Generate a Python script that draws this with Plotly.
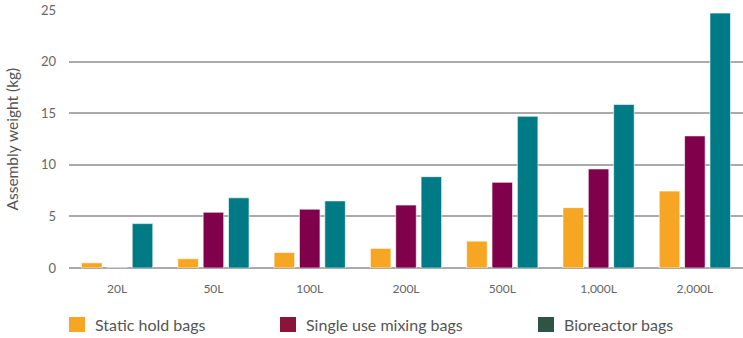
import plotly.graph_objects as go

categories = ["20L", "50L", "100L", "200L", "500L", "1,000L", "2,000L"]
static_hold = [0.5, 0.9, 1.5, 1.9, 2.6, 5.85, 7.45]
mixing = [0, 5.4, 5.7, 6.1, 8.3, 9.6, 12.8]
bioreactor = [4.3, 6.8, 6.5, 8.85, 14.7, 15.85, 24.7]
y_ticks = [0, 5, 10, 15, 20, 25]

series_names = ["Static hold bags", "Single use mixing bags", "Bioreactor bags"]
bar_colors = ["#F6A623", "#81004B", "#007A84"]
legend_colors = ["#F6A623", "#8B1538", "#2E5446"]

FONT = "Lato"
fig = go.Figure()
for name, vals, col in zip(series_names, [static_hold, mixing, bioreactor], bar_colors):
    fig.add_trace(go.Bar(x=categories, y=vals, name=name,
                         marker=dict(color=col, line=dict(color="rgba(255,255,255,0.6)", width=1)),
                         showlegend=False))

# manual legend (pixel layout converted to paper coordinates)
L, R, T, B = 69, 743, 10, 268
def px(x):
    return (x - L) / (R - L)
def py(y):
    return (B - y) / (B - T)

legend_x = [69, 280, 538]
for name, col, lx in zip(series_names, legend_colors, legend_x):
    fig.add_shape(type="rect", xref="paper", yref="paper",
                  x0=px(lx), x1=px(lx + 16), y0=py(332), y1=py(317),
                  fillcolor=col, line=dict(width=0))
    fig.add_annotation(xref="paper", yref="paper", x=px(lx + 24), y=py(324.5),
                       text=name, showarrow=False, xanchor="left", yanchor="middle",
                       font=dict(family=FONT, size=16, color="#555555"))

fig.add_annotation(xref="paper", yref="paper", x=px(11), y=py(139.5), text="Assembly weight (kg)",
                   textangle=-90, showarrow=False, xanchor="center", yanchor="middle",
                   font=dict(family=FONT, size=15.5, color="#555555"))

fig.update_layout(
    width=743, height=338,
    margin=dict(l=L, r=743 - R, t=T, b=338 - B),
    plot_bgcolor="white", paper_bgcolor="white",
    barmode="group", bargap=0.21, bargroupgap=0.19,
    font=dict(family=FONT, color="#666666"),
    xaxis=dict(showgrid=False, showline=False, ticks="", tickfont=dict(size=12, color="#666666"),
               ticklabelstandoff=12),
    yaxis=dict(range=[0, 25], tickvals=y_ticks, showgrid=True, gridcolor="#AAAAAA", gridwidth=1.5,
               zeroline=True, zerolinecolor="#AAAAAA", zerolinewidth=1.5,
               tickfont=dict(size=13, color="#666666"), ticklabelstandoff=12),
)
fig.write_html("out.html")
